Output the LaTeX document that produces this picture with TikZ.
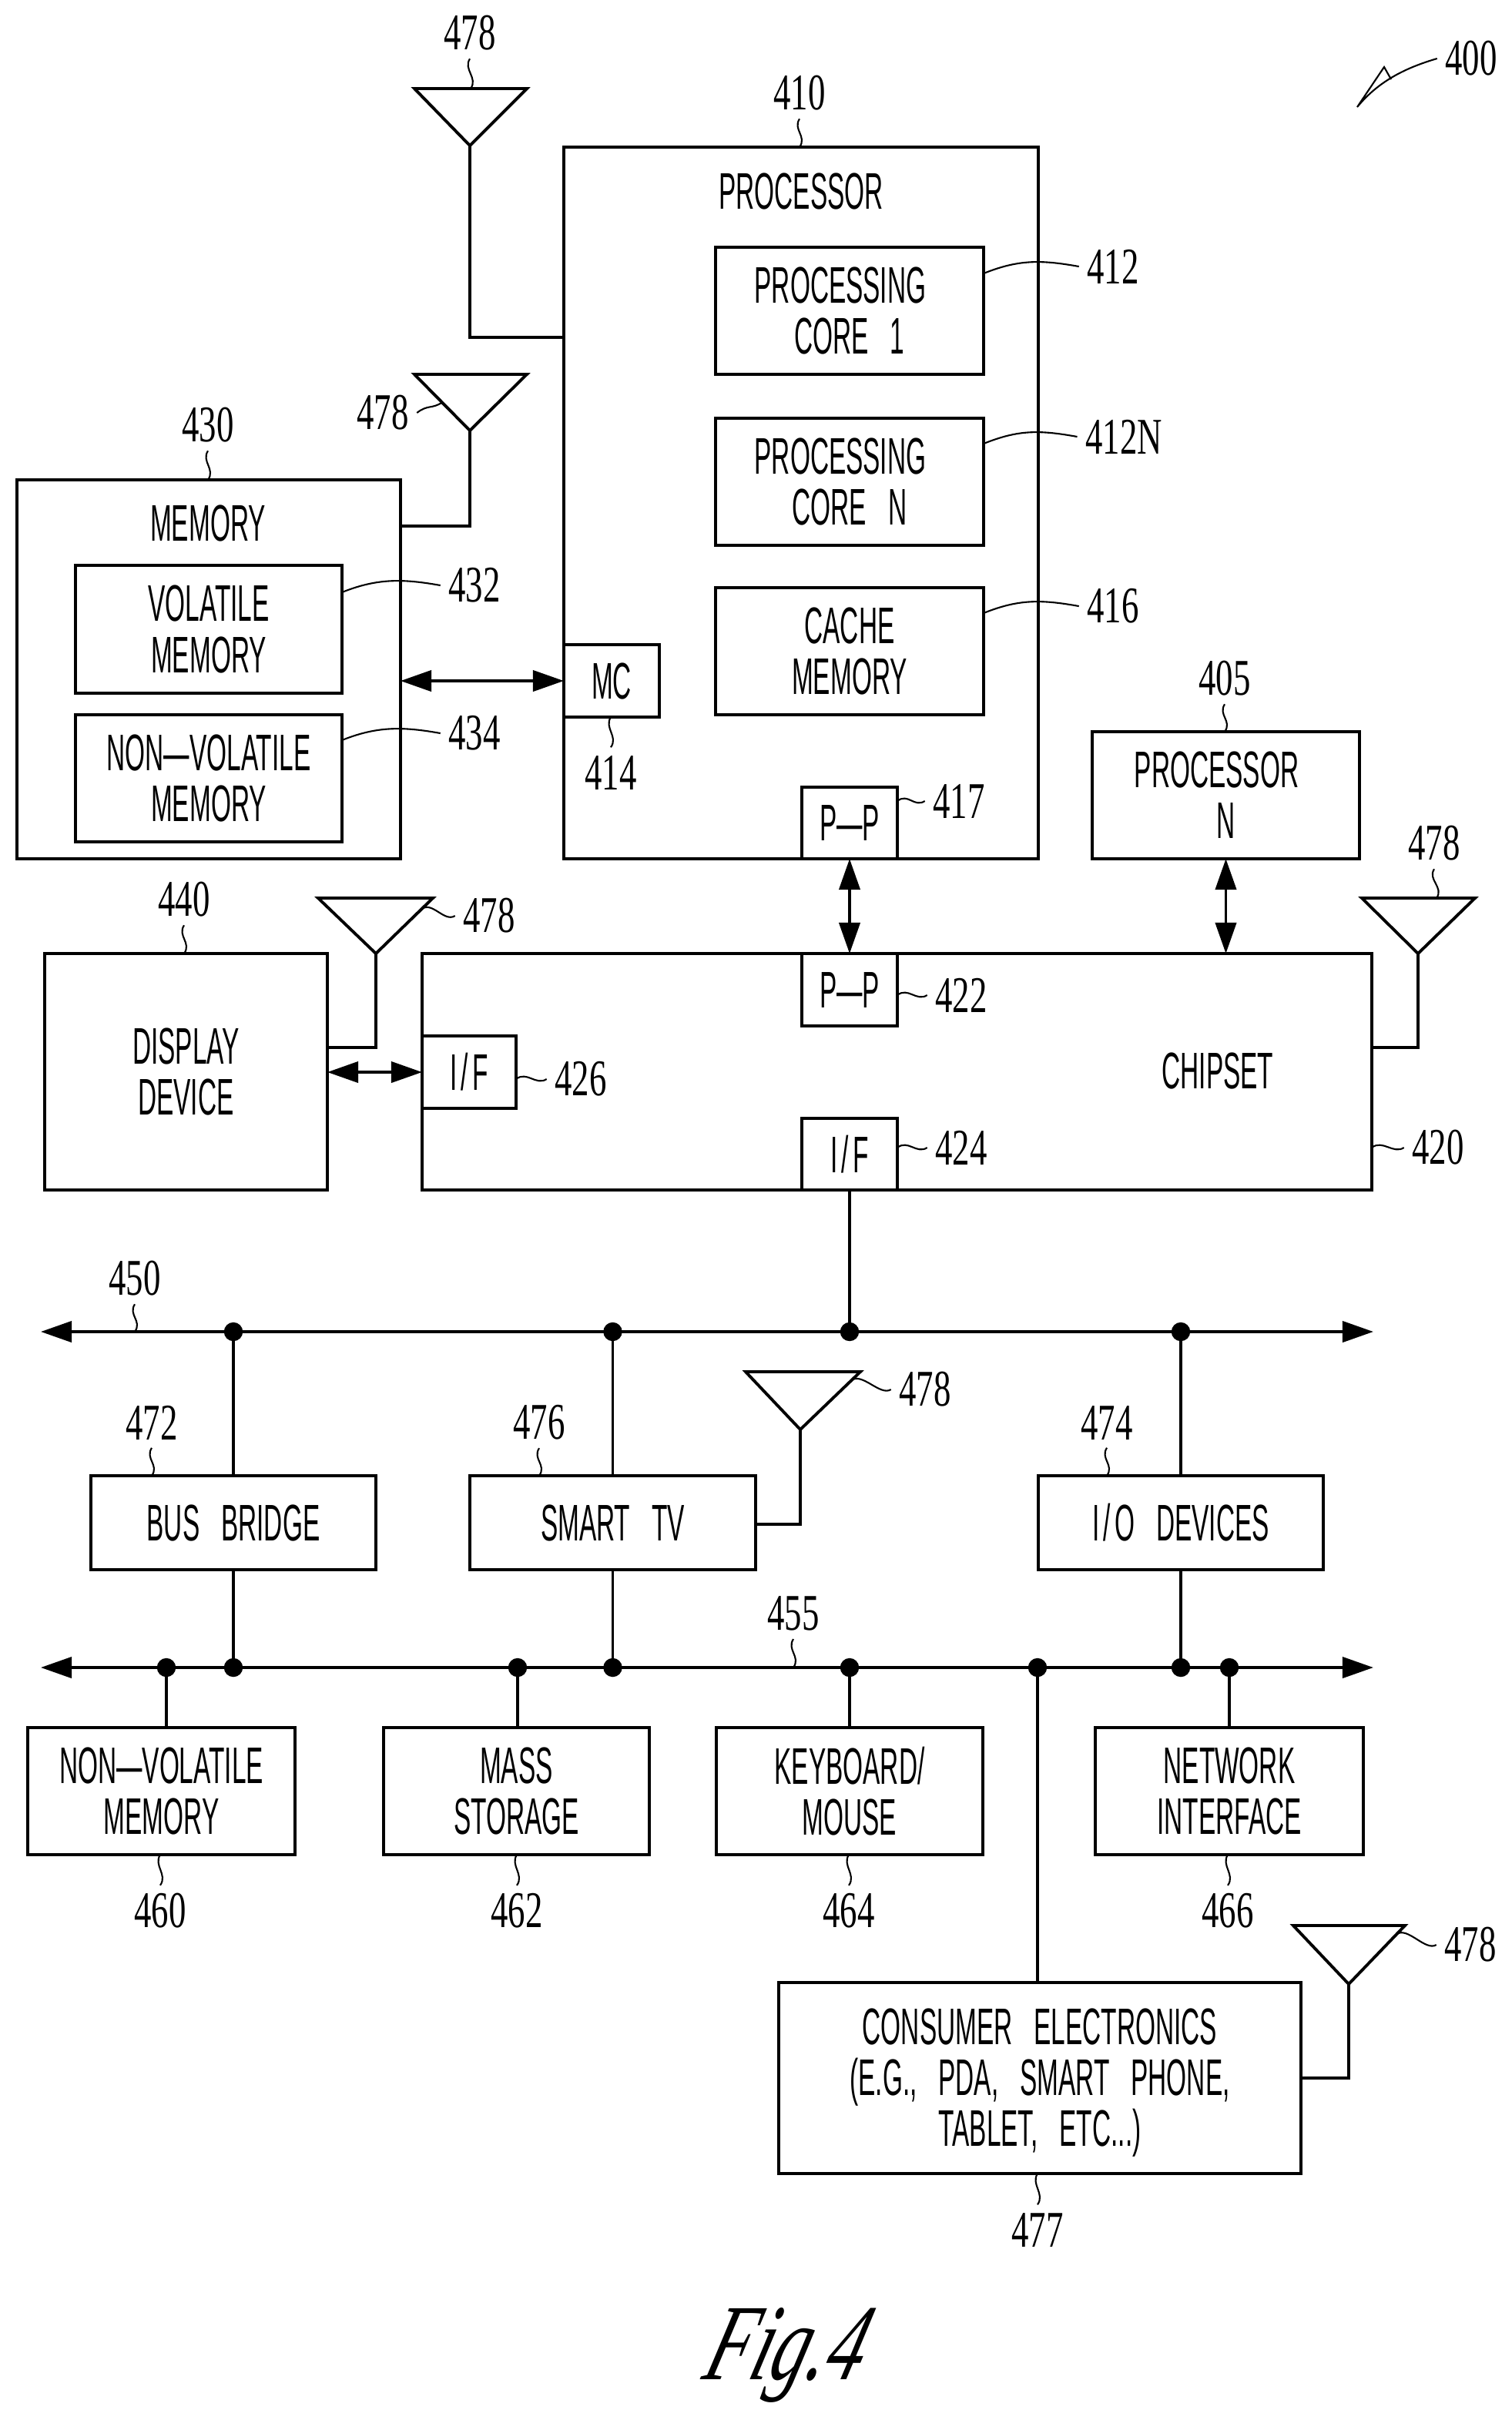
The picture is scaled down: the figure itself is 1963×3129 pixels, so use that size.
\documentclass[tikz,border=0pt]{standalone}
\usepackage{fontspec}
\usetikzlibrary{arrows.meta, calc}
\setmainfont[FakeStretch=0.5,WordSpace=3]{Liberation Sans}
\newfontfamily\numfont[FakeStretch=0.67]{Liberation Serif}
\newfontfamily\figfont[FakeStretch=0.68,FakeSlant=0.3]{Liberation Serif}
\newcommand{\wavev}[2]{\draw[leader] (#1) .. controls +(-9,14) and +(10,-14) .. (#2);}
\newcommand{\waveh}[2]{\draw[leader] (#1) .. controls +(14,-11) and +(-14,9) .. (#2);}
\newcommand{\bowl}[2]{\draw[leader] (#1 |- #2) ++(0,9) .. controls +(45,-18) and +(-50,-9) .. (#2);}
\newcommand{\wideif}{I\kern1.5pt/\kern1.5pt F}
\tikzset{%
    % boxes, texts and reference numbers
    box/.style 2 args = {draw, line width=1.1pt, rectangle, inner sep=0pt, outer sep=0pt,
    minimum width=#1*0.01cm, minimum height=#2*0.01cm, align=center,
    font=\fontsize{19pt}{18.8pt}\selectfont},
    title/.style = {inner sep=0pt, align=center, font=\fontsize{19pt}{18.8pt}\selectfont},
    refnum/.style = {inner sep=0.1cm, font=\fontsize{19pt}{19pt}\numfont},
    figlabel/.style = {inner sep=0pt, font=\fontsize{40pt}{40pt}\figfont\itshape},
    % connectors
    wire/.style = {line width=1.1pt, line join=miter},
    arc/.style = {wire, {Triangle[length=4mm,width=2.7mm]}-{Triangle[length=4mm,width=2.7mm]}},
    leader/.style = {line width=0.6pt},
    junction/.style = {draw, fill=black, circle, inner sep=0pt, minimum size=0.23cm}
}
\begin{document}
\begin{tikzpicture}[x=0.01cm, y=-0.01cm]
	\useasboundingbox (0,0) rectangle (1963,3129);

	% upper blocks
	\node[box={616}{924}] 	(proc) at (1040,653) 	{};
	\node[title] 	(proct) at (1040,248) 	{PROCESSOR};
	\node[box={348}{165}] 	(core1) at (1103,403.5) 	{PROCESSING\hspace*{0.24cm}\\CORE 1};
	\node[box={348}{165}] 	(coren) at (1103,625.5) 	{PROCESSING\hspace*{0.24cm}\\CORE N};
	\node[box={348}{165}] 	(cache) at (1103,845.5) 	{CACHE\\MEMORY};
	\node[box={124}{93}] 	(pp417) at (1103,1068.5) 	{P—P};
	\node[box={124}{94}] 	(mc) at (794,884) 	{MC};
	\node[box={498}{492}] 	(mem) at (271,869) 	{};
	\node[title] 	(memt) at (270,679) 	{MEMORY};
	\node[box={346}{166}] 	(vol) at (271,817) 	{VOLATILE\\MEMORY};
	\node[box={346}{165}] 	(nonvol) at (271,1010.5) 	{NON—VOLATILE\\MEMORY};
	\node[box={347}{165}] 	(procn) at (1591.5,1032.5) 	{PROCESSOR\hspace*{0.24cm}\\N};
	\node[box={367}{307}] 	(disp) at (241.5,1391.5) 	{DISPLAY\\DEVICE};
	\node[box={1233}{307}] 	(chip) at (1164.5,1391.5) 	{};
	\node[title] 	(chipt) at (1581,1390) 	{CHIPSET};
	\node[box={124}{94}] 	(pp422) at (1103,1285) 	{P—P};
	\node[box={124}{93}] 	(if424) at (1103,1498.5) 	{\wideif};
	\node[box={122}{94}] 	(if426) at (609,1392) 	{\wideif};

	% lower blocks
	\node[box={370}{122}] 	(bridge) at (303,1977) 	{BUS BRIDGE};
	\node[box={371}{122}] 	(tv) at (795.5,1977) 	{SMART TV};
	\node[box={370}{122}] 	(iodev) at (1533,1977) 	{I\kern1.5pt/\kern1.5pt O DEVICES};
	\node[box={347}{165}] 	(nvm) at (209.5,2325.5) 	{NON—VOLATILE\\MEMORY};
	\node[box={345}{165}] 	(mass) at (670.5,2325.5) 	{MASS\\STORAGE};
	\node[box={346}{165}] 	(key) at (1103,2325.5) 	{KEYBOARD/\\MOUSE};
	\node[box={348}{165}] 	(net) at (1596,2325.5) 	{NETWORK\\INTERFACE};
	\node[box={678}{248}] 	(cons) at (1350,2698) 	{};
	\node[title] 	(const) at (1350,2704) 	{CONSUMER ELECTRONICS\\(E.G., PDA, SMART PHONE,\\TABLET, ETC...)};

	% antennas
	\draw[wire] (538,115) coordinate (ant1l) -- (684,115) coordinate (ant1r) -- (610,189) coordinate (ant1) -- cycle;
	\draw[wire] (538,486) coordinate (ant2l) -- (684,486) coordinate (ant2r) -- (610,559) coordinate (ant2) -- cycle;
	\draw[wire] (413,1166) coordinate (ant3l) -- (562,1166) coordinate (ant3r) -- (488,1238) coordinate (ant3) -- cycle;
	\draw[wire] (1768,1166) coordinate (ant4l) -- (1915,1166) coordinate (ant4r) -- (1841,1238) coordinate (ant4) -- cycle;
	\draw[wire] (968,1781) coordinate (ant5l) -- (1117,1781) coordinate (ant5r) -- (1039,1856) coordinate (ant5) -- cycle;
	\draw[wire] (1679,2500) coordinate (ant6l) -- (1824,2500) coordinate (ant6r) -- (1751,2576) coordinate (ant6) -- cycle;
	\coordinate (proc1) at (732,438);
	\coordinate (mem1) at (520,683);
	\coordinate (disp1) at (425,1360);
	\coordinate (chip1) at (1781,1360);
	\coordinate (tv1) at (981,1979);
	\coordinate (cons1) at (1689,2698);
	\draw[wire] (ant1) |- (proc1);
	\draw[wire] (ant2) |- (mem1);
	\draw[wire] (ant3) |- (disp1);
	\draw[wire] (ant4) |- (chip1);
	\draw[wire] (ant5) |- (tv1);
	\draw[wire] (ant6) |- (cons1);

	% arrows between blocks
	\draw[arc] (mem.east |- mc.west) -- (mc.west);
	\draw[arc] (pp417.south) -- (pp422.north);
	\draw[arc] (procn.south) -- (procn.south |- chip.north);
	\draw[arc] (disp.east |- if426.west) -- (if426.west);

	% buses
	\coordinate (bus1l) at (53,1729);
	\coordinate (bus1r) at (1783,1729);
	\coordinate (bus2l) at (53,2165);
	\coordinate (bus2r) at (1783,2165);
	\draw[arc] (bus1l) -- (bus1r);
	\draw[arc] (bus2l) -- (bus2r);
	\node[junction] 	(j1) at (303,1729) {};
	\node[junction] 	(j2) at (795.5,1729) {};
	\node[junction] 	(j3) at (1103,1729) {};
	\node[junction] 	(j4) at (1533,1729) {};
	\node[junction] 	(k1) at (216,2165) {};
	\node[junction] 	(k2) at (303,2165) {};
	\node[junction] 	(k3) at (672,2165) {};
	\node[junction] 	(k4) at (795.5,2165) {};
	\node[junction] 	(k5) at (1103,2165) {};
	\node[junction] 	(k6) at (1347,2165) {};
	\node[junction] 	(k7) at (1533,2165) {};
	\node[junction] 	(k8) at (1596,2165) {};
	\draw[wire] (if424.south) -- (j3);
	\draw[wire] (j1) -- (bridge.north);
	\draw[wire] (j2) -- (tv.north);
	\draw[wire] (j4) -- (iodev.north);
	\draw[wire] (bridge.south) -- (k2);
	\draw[wire] (tv.south) -- (k4);
	\draw[wire] (iodev.south) -- (k7);
	\draw[wire] (k1) -- (k1 |- nvm.north);
	\draw[wire] (k3) -- (k3 |- mass.north);
	\draw[wire] (k5) -- (key.north);
	\draw[wire] (k6) -- (k6 |- cons.north);
	\draw[wire] (k8) -- (net.north);

	% reference numbers
	\node[refnum] 	(l400) at (1910,76) {400};
	\node[refnum] 	(l410) at (1038,121) {410};
	\node[refnum] 	(l412) at (1445,346) {412};
	\node[refnum] 	(l412n) at (1459,567) {412N};
	\node[refnum] 	(l416) at (1445,787) {416};
	\node[refnum] 	(l417) at (1245,1040) {417};
	\node[refnum] 	(l405) at (1590,881) {405};
	\node[refnum] 	(l414) at (793,1003) {414};
	\node[refnum] 	(l430) at (270,552) {430};
	\node[refnum] 	(l432) at (616,760) {432};
	\node[refnum] 	(l434) at (616,952) {434};
	\node[refnum] 	(l440) at (239,1168) {440};
	\node[refnum] 	(l426) at (754,1401) {426};
	\node[refnum] 	(l422) at (1248,1292) {422};
	\node[refnum] 	(l424) at (1248,1490) {424};
	\node[refnum] 	(l420) at (1867,1490) {420};
	\node[refnum] 	(l450) at (175,1660) {450};
	\node[refnum] 	(l472) at (197,1847) {472};
	\node[refnum] 	(l476) at (700,1847) {476};
	\node[refnum] 	(l474) at (1437,1847) {474};
	\node[refnum] 	(l455) at (1030,2095) {455};
	\node[refnum] 	(l460) at (208,2481) {460};
	\node[refnum] 	(l462) at (671,2481) {462};
	\node[refnum] 	(l464) at (1102,2481) {464};
	\node[refnum] 	(l466) at (1594,2481) {466};
	\node[refnum] 	(l477) at (1347,2895) {477};
	\node[refnum] 	(la1) at (610,43) {478};
	\node[refnum] 	(la2) at (497,536) {478};
	\node[refnum] 	(la3) at (635,1189) {478};
	\node[refnum] 	(la4) at (1862,1095) {478};
	\node[refnum] 	(la5) at (1201,1804) {478};
	\node[refnum] 	(la6) at (1909,2525) {478};
	\node[figlabel] 	(fig) at (1012,3058) {Fig.4};

	% leaders
	\coordinate (a400) at (1762,139);
	\draw[leader] (l400.west) .. controls (1825,88) and (1790,105) .. (a400) -- (1797,87) -- (1806,103);
	\wavev{l410.south}{l410.south |- proc.north}
	\wavev{l405.south}{l405.south |- procn.north}
	\wavev{l430.south}{l430.south |- mem.north}
	\wavev{l440.south}{l440.south |- disp.north}
	\wavev{l472.south}{l472.south |- bridge.north}
	\wavev{l476.south}{l476.south |- tv.north}
	\wavev{l474.south}{l474.south |- iodev.north}
	\wavev{l450.south}{l450.south |- bus1l}
	\wavev{l455.south}{l455.south |- bus2l}
	\wavev{l414.north |- mc.south}{l414.north}
	\wavev{l460.north |- nvm.south}{l460.north}
	\wavev{l462.north |- mass.south}{l462.north}
	\wavev{l464.north |- key.south}{l464.north}
	\wavev{l466.north |- net.south}{l466.north}
	\wavev{l477.north |- cons.south}{l477.north}
	\wavev{la1.south}{$(ant1l)!0.5!(ant1r)$}
	\wavev{la4.south}{$(ant4l)!0.66!(ant4r)$}
	\waveh{pp417.east |- l417.west}{l417.west}
	\waveh{pp422.east |- l422.west}{l422.west}
	\waveh{if424.east |- l424.west}{l424.west}
	\waveh{if426.east |- l426.west}{l426.west}
	\waveh{chip.east |- l420.west}{l420.west}
	\waveh{la2.east}{$(ant2l)!0.5!(ant2)$}
	\waveh{$(ant3r)!0.2!(ant3)$}{la3.west}
	\waveh{$(ant5r)!0.15!(ant5)$}{la5.west}
	\waveh{$(ant6r)!0.15!(ant6)$}{la6.west}
	\bowl{core1.east}{l412.west}
	\bowl{coren.east}{l412n.west}
	\bowl{cache.east}{l416.west}
	\bowl{vol.east}{l432.west}
	\bowl{nonvol.east}{l434.west}
\end{tikzpicture}
\end{document}
